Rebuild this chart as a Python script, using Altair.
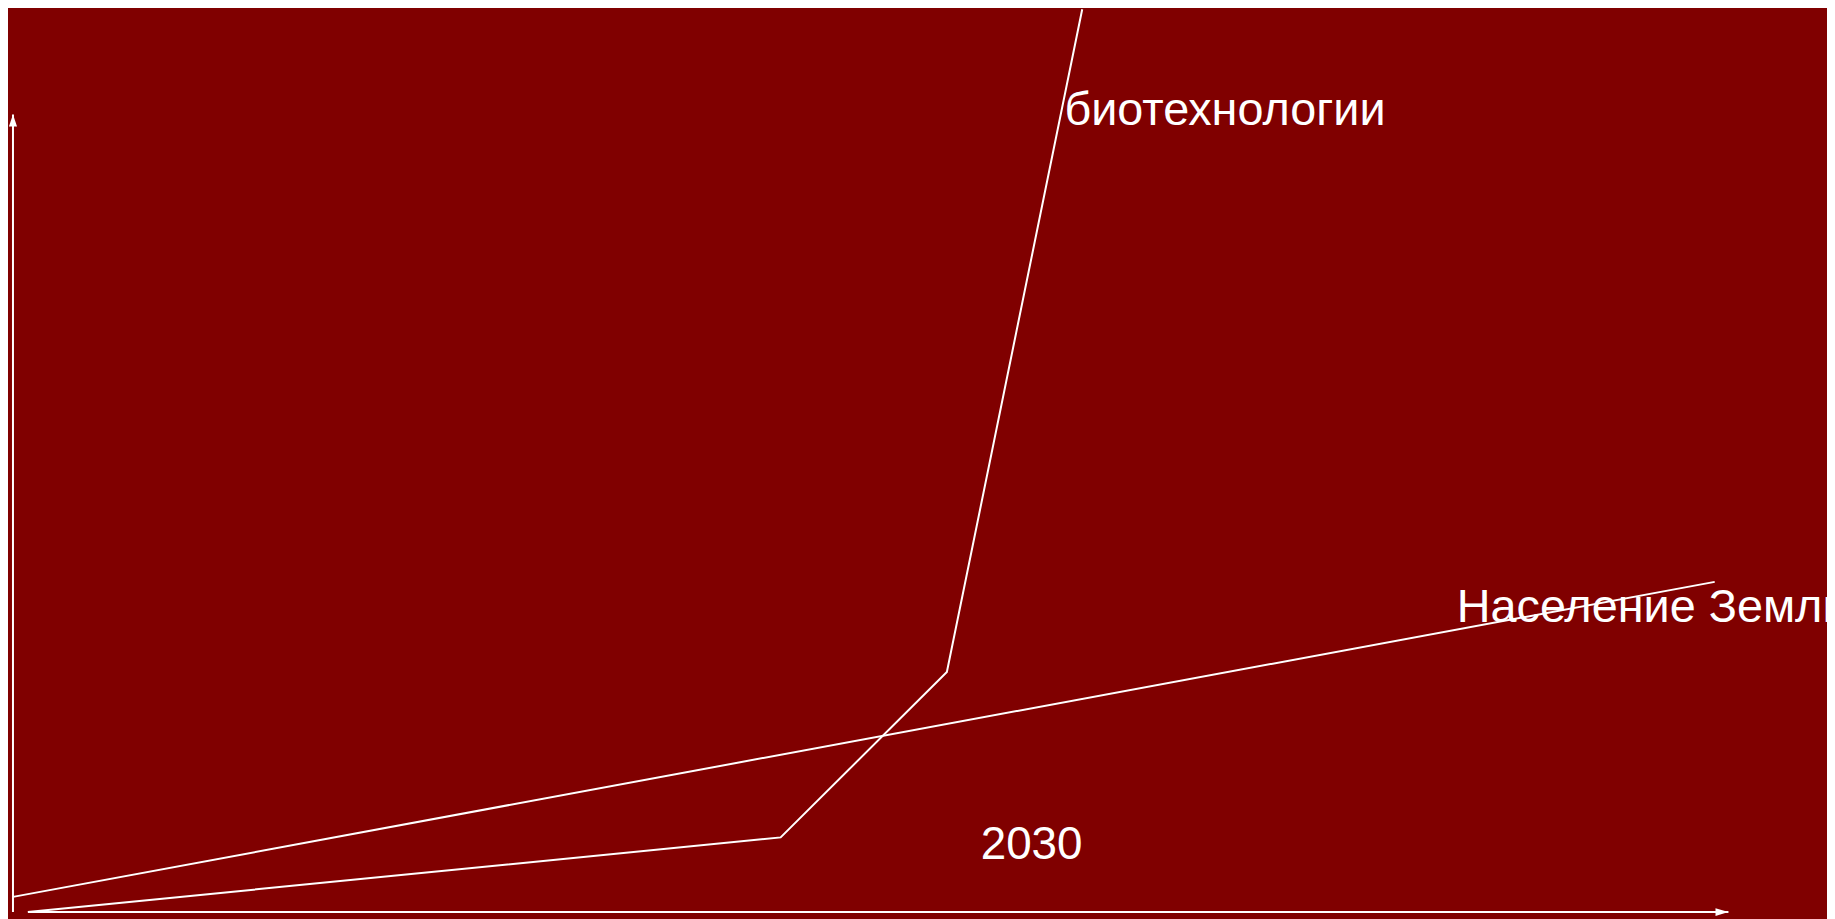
import altair as alt
import pandas as pd

# Schematic values (abstract units 0..100 on both axes)
pop_x = [0.0, 99.2]
pop_y = [1.9, 41.4]

bio_x = [0.87, 44.75, 54.44, 62.33]
bio_y = [0.0, 9.36, 30.09, 113.2]

xaxis_x = [0.87, 100.0]
xaxis_y = [0.0, 0.0]
yaxis_x = [0.0, 0.0]
yaxis_y = [0.0, 100.0]

label_text = ["биотехнологии", "Население Земли", "2030"]
label_x = [61.29, 84.16, 56.41]
label_y = [98.75, 36.33, 6.62]
label_size = [47, 47, 46]

FONT = "Liberation Sans"
WHITE = "#ffffff"

rows = []
for i, (x, y) in enumerate(zip(pop_x, pop_y)):
    rows.append({"series": "pop", "i": i, "x": x, "y": y})
for i, (x, y) in enumerate(zip(bio_x, bio_y)):
    rows.append({"series": "bio", "i": i, "x": x, "y": y})
for i, (x, y) in enumerate(zip(xaxis_x, xaxis_y)):
    rows.append({"series": "xaxis", "i": i, "x": x, "y": y})
for i, (x, y) in enumerate(zip(yaxis_x, yaxis_y)):
    rows.append({"series": "yaxis", "i": i, "x": x, "y": y})
lines_df = pd.DataFrame(rows)

labels_df = pd.DataFrame({"text": label_text, "x": label_x, "y": label_y, "size": label_size})

xs = alt.Scale(domain=[0, 100], range=[5, 1728], nice=False, zero=False)
ys = alt.Scale(domain=[0, 100], range=[906, 105], nice=False, zero=False)

X = lambda: alt.X("x:Q", scale=xs, axis=None)
Y = lambda: alt.Y("y:Q", scale=ys, axis=None)

lines = alt.Chart(lines_df).mark_line(color=WHITE, strokeWidth=2).encode(
    x=X(), y=Y(), detail="series:N", order="i:O"
)

up_arrow = alt.Chart(pd.DataFrame({"x": [yaxis_x[1]], "y": [yaxis_y[1]]})).mark_point(
    shape="M0,0L0.34,1L-0.34,1Z", size=576, filled=True, color=WHITE, opacity=1, strokeWidth=0
).encode(x=X(), y=Y())

right_arrow = alt.Chart(pd.DataFrame({"x": [xaxis_x[1]], "y": [xaxis_y[1]]})).mark_point(
    shape="M0,0L-1,-0.3L-1,0.3Z", size=676, filled=True, color=WHITE, opacity=1, strokeWidth=0
).encode(x=X(), y=Y())

labels = alt.Chart(labels_df).mark_text(
    font=FONT, color=WHITE, align="left", baseline="alphabetic"
).encode(
    x=X(), y=Y(), text="text:N",
    size=alt.Size("size:Q", scale=None, legend=None),
)

chart = (
    alt.layer(lines, up_arrow, right_arrow, labels)
    .properties(
        width=1827,
        height=911,
        background="#800000",
        padding=0,
        autosize=alt.AutoSizeParams(type="none"),
    )
    .configure_view(stroke=None)
)

chart.save("out.html", embed_options={"renderer": "svg", "actions": False})
